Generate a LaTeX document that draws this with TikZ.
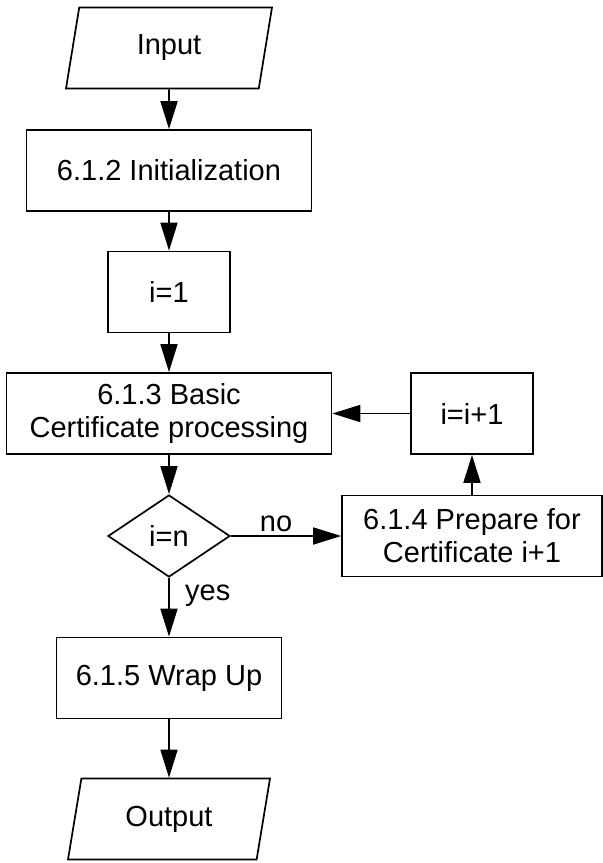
\documentclass[tikz,border=0pt]{standalone}
\usepackage{fontspec}
\setmainfont{Liberation Sans}
\usetikzlibrary{shapes.geometric,arrows.meta}
\begin{document}
\begin{tikzpicture}[x=1pt,y=-1pt,line width=1.7pt,
    font=\fontsize{29}{33}\selectfont,
    arr/.style={-{Triangle[length=28pt,width=17pt]}},
    io/.style={trapezium,draw,trapezium left angle=63,trapezium right
        angle=117,trapezium stretches body,minimum height=81pt,inner sep=0pt}]
    \tikzstyle{block}=[rectangle,draw,minimum height=81pt,inner sep=0pt,align=center]
    \tikzstyle{test}=[diamond,draw,minimum width=122pt,minimum height=82pt,inner sep=0pt,aspect=1.5]

    \useasboundingbox (0,0) rectangle (603,863);

    \node[io, minimum width=206pt] (input) at (169,48) {Input};
    \node[block, minimum width=285pt] (init) at (169,170.5) {6.1.2 Initialization};
    \node[block, minimum width=122pt] (ione) at (169,292) {i=1};
    \node[block, minimum width=325pt] (basic) at (169,413.5) {6.1.3 Basic\\Certificate processing};
    \node[test] (check) at (169,536) {i=n};
    \node[block, minimum width=260pt] (prepare) at (472,536) {6.1.4 Prepare for\\Certificate i+1};
    \node[block, minimum width=122pt] (incr) at (472,413.5) {i=i+1};
    \node[block, minimum width=225pt] (wrap) at (169,678) {6.1.5 Wrap Up};
    \node[io, minimum width=202pt] (output) at (169,819) {Output};

    \draw[arr] (input) -- (init);
    \draw[arr] (init) -- (ione);
    \draw[arr] (ione) -- (basic);
    \draw[arr] (basic) -- (check);
    \draw[arr] (check) -- node[above, pos=0.41] {no} (prepare);
    \draw[arr] (prepare) -- (incr);
    \draw[arr] (incr) -- (basic);
    \draw[arr] (check) -- node[right, pos=0.3, xshift=12pt] {yes} (wrap);
    \draw[arr] (wrap) -- (output);

\end{tikzpicture}
\end{document}
